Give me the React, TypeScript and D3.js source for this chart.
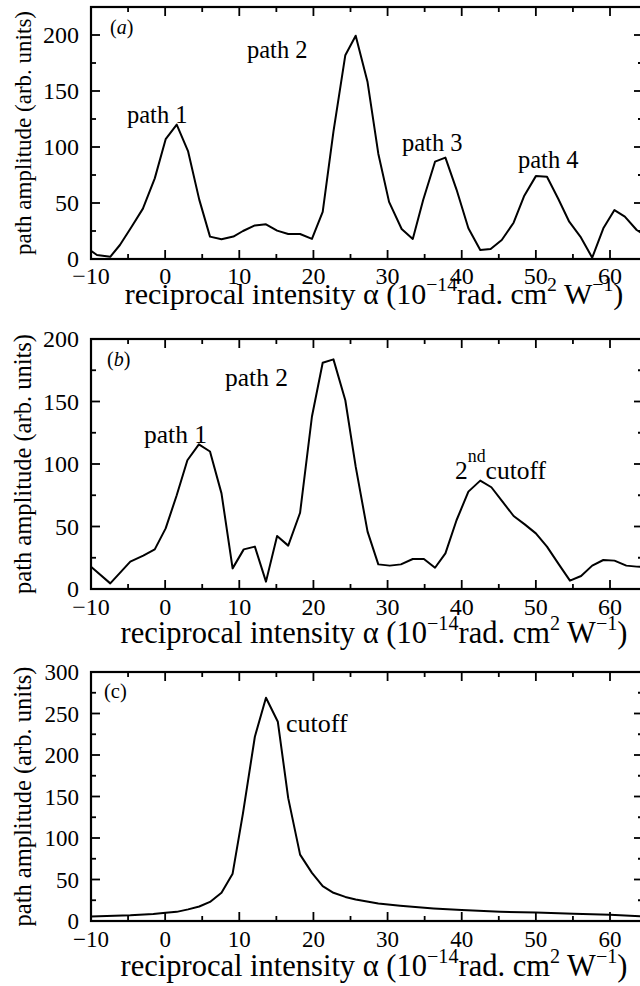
import React from "react";
import * as d3 from "d3";

// ---------- data ----------
const xA = [-10, -9.2, -7.4, -6.1, -4.5, -3.0, -1.4, 0.07, 1.56, 3.1, 4.6, 6.05, 7.6, 9.2, 10.5, 12.1, 13.6, 15.1, 16.6, 18.2, 19.8, 21.25, 22.7, 24.3, 25.7, 27.3, 28.75, 30.2, 31.9, 33.4, 34.8, 36.4, 37.8, 39.3, 40.9, 42.5, 43.9, 45.4, 47.0, 48.4, 50.0, 51.5, 53.0, 54.5, 56.0, 57.6, 59.1, 60.6, 62.0, 63.6, 65.0];
const yA = [7.4, 3.6, 2, 12.5, 29, 45, 72, 107, 120, 96, 53, 20, 17.6, 20, 25, 30, 31, 25.3, 22.3, 22.3, 18, 42, 113.7, 182, 199.4, 158, 94, 51, 26.8, 17.9, 52.7, 86.9, 90.5, 62, 27.4, 8, 8.9, 17, 32.4, 56, 74, 73.5, 54, 33.3, 20, 1.2, 27.4, 43.7, 37.8, 25.9, 20];

const xB = [-10, -7.4, -4.7, -2.95, -1.4, 0.07, 1.56, 3.0, 4.55, 6.05, 7.6, 9.1, 10.6, 12.1, 13.6, 15.1, 16.6, 18.2, 19.8, 21.25, 22.7, 24.3, 25.7, 27.3, 28.75, 30.3, 31.8, 33.4, 34.9, 36.4, 37.8, 39.3, 40.9, 42.5, 44.0, 45.5, 47.0, 48.5, 50.0, 51.5, 53.1, 54.6, 56.1, 57.6, 59.1, 60.6, 62.2, 63.6, 65.0];
const yB = [17.8, 4.5, 21.9, 26.7, 31.7, 48.5, 75, 103, 115.7, 110, 76.5, 16.5, 31.7, 33.9, 5.9, 42.4, 34.7, 61, 138, 181, 183.7, 151, 97.9, 45.9, 19.7, 18.7, 19.7, 24, 24, 17, 28.5, 55, 77.9, 86.7, 81.4, 69.9, 58.4, 51.7, 44.5, 33.9, 19.7, 6.7, 10.4, 18.7, 23.2, 22.7, 18.7, 17.9, 17.5];

const xC = [-10, -4.7, -1.6, 0.07, 1.56, 3.1, 4.6, 6.05, 7.6, 9.1, 10.5, 12.1, 13.6, 15.2, 16.6, 18.2, 19.8, 21.25, 22.7, 24.3, 25.7, 28.75, 31.7, 36.2, 40.0, 45.2, 50.0, 55.1, 60.0, 65.0];
const yC = [5.5, 7, 8.5, 10, 11, 14, 17.5, 23, 34, 57, 130, 222, 269, 240, 148, 80, 58, 42, 34, 29, 26, 21, 18.4, 15.2, 13.2, 11.2, 10.2, 8.6, 7.4, 5.4];

const xTicksMajor = [-10, 0, 10, 20, 30, 40, 50, 60];
const xTicksMinor = [-5, 5, 15, 25, 35, 45, 55];
const yTicksA = [0, 50, 100, 150, 200];
const yTicksB = [0, 50, 100, 150, 200];
const yTicksC = [0, 50, 100, 150, 200, 250, 300];

const yLabel = "path amplitude (arb. units)";

// ---------- layout ----------
const FONT = "'Liberation Serif', 'Times New Roman', Times, serif";
const X0 = 91;
const X1 = 643;
const xDomain = [-10, 64.45];

type Ann = { kind: string; text: string; x: number; y: number; size: number };

const panels = [
  {
    id: "a", xs: xA, ys: yA, yMax: 225, yTicks: yTicksA,
    top: 7, bottom: 259, tickBase: 284, titleBase: 304, titleSize: 30, ySize: 23, tickSize: 24,
    anns: [
      { kind: "tag", text: "a", x: 110, y: 34, size: 20 },
      { kind: "txt", text: "path 1", x: 127, y: 123, size: 24.5 },
      { kind: "txt", text: "path 2", x: 247, y: 58, size: 24.5 },
      { kind: "txt", text: "path 3", x: 402, y: 151, size: 24.5 },
      { kind: "txt", text: "path 4", x: 518, y: 168, size: 24.5 },
    ] as Ann[],
  },
  {
    id: "b", xs: xB, ys: yB, yMax: 200, yTicks: yTicksB,
    top: 339, bottom: 589, tickBase: 615, titleBase: 643, titleSize: 30.5, ySize: 24.5, tickSize: 24,
    anns: [
      { kind: "tag", text: "b", x: 107, y: 366, size: 20 },
      { kind: "txt", text: "path 1", x: 144, y: 443, size: 25.5 },
      { kind: "txt", text: "path 2", x: 225, y: 386, size: 25.5 },
      { kind: "nd", text: "cutoff", x: 455, y: 479, size: 25.5 },
    ] as Ann[],
  },
  {
    id: "c", xs: xC, ys: yC, yMax: 300, yTicks: yTicksC,
    top: 672, bottom: 921, tickBase: 947, titleBase: 976, titleSize: 30.5, ySize: 24.5, tickSize: 23,
    anns: [
      { kind: "tagc", text: "(c)", x: 104, y: 698, size: 20.5 },
      { kind: "txt", text: "cutoff", x: 286, y: 732, size: 26 },
    ] as Ann[],
  },
];

function Panel({ p }: { p: (typeof panels)[number] }) {
  const x = d3.scaleLinear().domain(xDomain).range([X0, X1]);
  const y = d3.scaleLinear().domain([0, p.yMax]).range([p.bottom, p.top]);
  const pts = p.xs.map((v, i) => [v, p.ys[i]] as [number, number]);
  const line = d3.line<[number, number]>().x((d) => x(d[0])).y((d) => y(d[1]));
  const yMinor = d3.range(25, p.yMax + 0.1, 50);
  const MAJ = 9;
  const MIN = 5;
  const clipId = `clip-${p.id}`;
  const ts = p.titleSize;
  const sup = ts * 0.66;
  return (
    <g>
      <defs>
        <clipPath id={clipId}>
          <rect x={X0} y={p.top} width={X1 - X0} height={p.bottom - p.top} />
        </clipPath>
      </defs>
      <path d={line(pts) || ""} fill="none" stroke="#000" strokeWidth={2} strokeLinejoin="round" clipPath={`url(#${clipId})`} />
      <rect x={X0} y={p.top} width={X1 - X0} height={p.bottom - p.top} fill="none" stroke="#000" strokeWidth={2.2} />
      {xTicksMajor.map((t) => (
        <g key={`xm${t}`}>
          <line x1={x(t)} x2={x(t)} y1={p.bottom} y2={p.bottom - MAJ} stroke="#000" strokeWidth={1.8} />
          <line x1={x(t)} x2={x(t)} y1={p.top} y2={p.top + MAJ} stroke="#000" strokeWidth={1.8} />
          <text x={x(t)} y={p.tickBase} textAnchor="middle" fontSize={p.tickSize} fontFamily={FONT}>
            {t < 0 ? `\u2212${Math.abs(t)}` : `${t}`}
          </text>
        </g>
      ))}
      {xTicksMinor.map((t) => (
        <g key={`xn${t}`}>
          <line x1={x(t)} x2={x(t)} y1={p.bottom} y2={p.bottom - MIN} stroke="#000" strokeWidth={1.8} />
          <line x1={x(t)} x2={x(t)} y1={p.top} y2={p.top + MIN} stroke="#000" strokeWidth={1.8} />
        </g>
      ))}
      {p.yTicks.map((t) => (
        <g key={`ym${t}`}>
          <line x1={X0} x2={X0 + MAJ} y1={y(t)} y2={y(t)} stroke="#000" strokeWidth={1.8} />
          <line x1={X1} x2={X1 - MAJ} y1={y(t)} y2={y(t)} stroke="#000" strokeWidth={1.8} />
          <text x={79} y={y(t)} dy="0.35em" textAnchor="end" fontSize={p.tickSize} fontFamily={FONT}>
            {t}
          </text>
        </g>
      ))}
      {yMinor.map((t) => (
        <g key={`yn${t}`}>
          <line x1={X0} x2={X0 + MIN} y1={y(t)} y2={y(t)} stroke="#000" strokeWidth={1.8} />
          <line x1={X1} x2={X1 - MIN} y1={y(t)} y2={y(t)} stroke="#000" strokeWidth={1.8} />
        </g>
      ))}
      <text
        transform={`translate(31,${(p.top + p.bottom) / 2}) rotate(-90)`}
        textAnchor="middle"
        fontSize={p.ySize}
        fontFamily={FONT}
      >
        {yLabel}
      </text>
      <text x={374} y={p.titleBase} textAnchor="middle" fontSize={ts} fontFamily={FONT}>
        <tspan>reciprocal intensity α (10</tspan>
        <tspan fontSize={sup} dy={-ts * 0.42}>{"\u221214"}</tspan>
        <tspan dy={ts * 0.42}>rad. cm</tspan>
        <tspan fontSize={sup} dy={-ts * 0.42}>2</tspan>
        <tspan dy={ts * 0.42}> W</tspan>
        <tspan fontSize={sup} dy={-ts * 0.42}>{"\u22121"}</tspan>
        <tspan dy={ts * 0.42}>)</tspan>
      </text>
      {p.anns.map((a, i) => {
        if (a.kind === "tag") {
          return (
            <text key={i} x={a.x} y={a.y} fontSize={a.size} fontFamily={FONT}>
              (<tspan fontStyle="italic">{a.text}</tspan>)
            </text>
          );
        }
        if (a.kind === "nd") {
          return (
            <text key={i} x={a.x} y={a.y} fontSize={a.size} fontFamily={FONT}>
              <tspan>2</tspan>
              <tspan fontSize={a.size * 0.7} dy={-a.size * 0.66}>nd</tspan>
              <tspan dy={a.size * 0.66}>{a.text}</tspan>
            </text>
          );
        }
        return (
          <text key={i} x={a.x} y={a.y} fontSize={a.size} fontFamily={FONT}>
            {a.text}
          </text>
        );
      })}
    </g>
  );
}

export default function App() {
  return (
    <svg
      width={640}
      height={986}
      viewBox="0 0 640 986"
      style={{ position: "absolute", left: 0, top: 0, background: "#fff" }}
    >
      <rect x={0} y={0} width={640} height={986} fill="#fff" />
      {panels.map((p) => (
        <Panel key={p.id} p={p} />
      ))}
    </svg>
  );
}
